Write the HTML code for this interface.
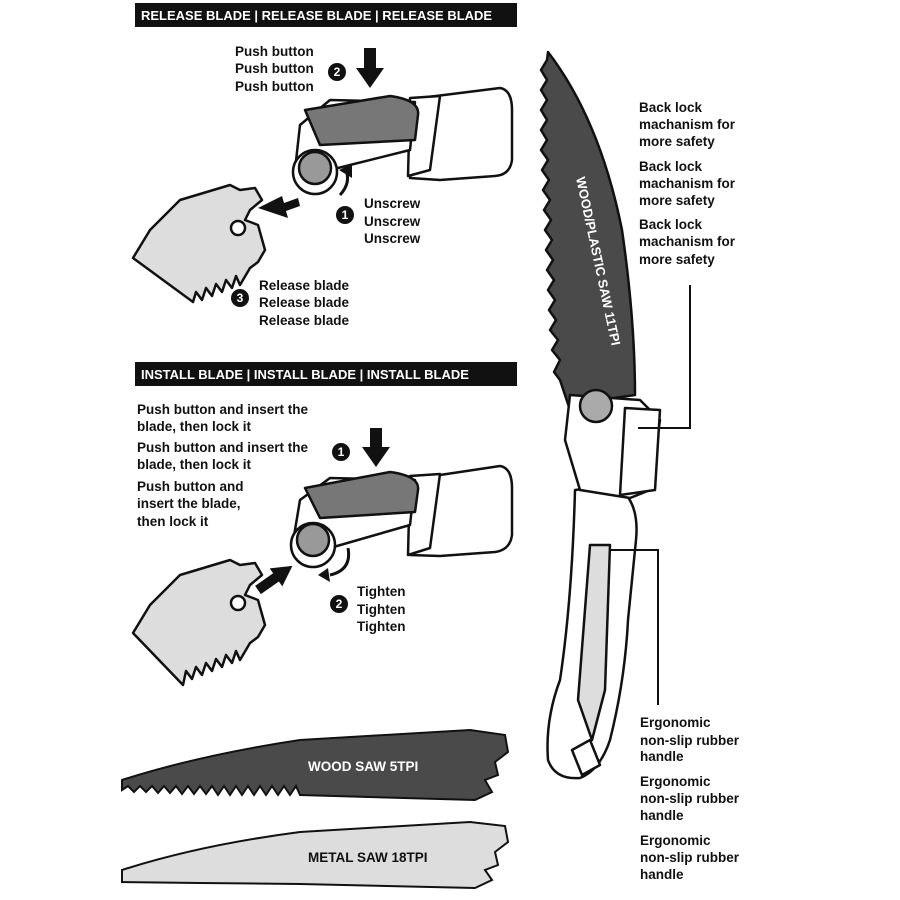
<!DOCTYPE html>
<html><head><meta charset="utf-8"><style>
html,body{margin:0;padding:0;background:#fff}
svg{display:block}
text{font-family:"Liberation Sans",Arial,sans-serif;font-weight:bold;font-size:13.5px;fill:#111}
.b{fill:#fff;font-size:13px}
.n{fill:#fff;font-size:12px;text-anchor:middle}
</style></head><body>
<svg width="900" height="900" viewBox="0 0 900 900">
<rect x="135" y="3" width="382" height="24" fill="#111"/>
<text class="b" x="141" y="20">RELEASE BLADE | RELEASE BLADE | RELEASE BLADE</text>
<rect x="135" y="362" width="382" height="24" fill="#111"/>
<text class="b" x="141" y="379">INSTALL BLADE | INSTALL BLADE | INSTALL BLADE</text>

<text x="235" y="56">Push button</text><text x="235" y="73">Push button</text><text x="235" y="91">Push button</text>
<circle cx="337" cy="72" r="9" fill="#111"/><text class="n" x="337" y="76">2</text>
<polygon points="364,48 376,48 376,68 384,68 370,88 356,68 364,68" fill="#111"/>
<text x="364" y="208">Unscrew</text><text x="364" y="226">Unscrew</text><text x="364" y="243">Unscrew</text>
<circle cx="345" cy="215" r="9" fill="#111"/><text class="n" x="345" y="219">1</text>
<text x="259" y="290">Release blade</text><text x="259" y="307">Release blade</text><text x="259" y="325">Release blade</text>
<circle cx="240" cy="298" r="9" fill="#111"/><text class="n" x="240" y="302">3</text>

<g stroke="#111" stroke-width="2.5" stroke-linejoin="round">
<path d="M420,98 L500,88 Q512,90 512,110 L512,160 Q510,175 495,176 L440,180 L410,178 Z" fill="#fff"/>
<path d="M410,98 L440,96 L430,170 L408,176 Z" fill="#fff"/>
<path d="M300,125 L330,100 L415,102 L410,150 L330,170 L295,170 Z" fill="#fff"/>
<path d="M305,110 L390,96 Q420,100 418,115 L415,140 L320,145 Z" fill="#777"/>
<circle cx="315" cy="172" r="22" fill="#fff"/>
<circle cx="315" cy="168" r="16" fill="#999"/>
<path d="M133,258 L150,230 L180,200 L230,185 L240,190 L255,188 L262,200 L250,210 L245,220 L258,225 L265,250 L258,262 L250,268 L240,285 L236,276 L232,288 L226,280 L222,292 L216,284 L212,296 L206,288 L202,300 L196,292 L193,302 Z" fill="#ddd"/>
<circle cx="238" cy="228" r="7" fill="#fff"/>
</g>
<polygon points="258,208 282,196 284,203 298,198 300,206 286,211 288,218" fill="#111"/>
<path d="M340,195 Q352,182 345,168" stroke="#111" stroke-width="3" fill="none"/>
<polygon points="339,170 352,164 352,178" fill="#111"/>

<text x="137" y="414">Push button and insert the</text><text x="137" y="431">blade, then lock it</text>
<text x="137" y="452">Push button and insert the</text><text x="137" y="469">blade, then lock it</text>
<text x="137" y="491">Push button and</text><text x="137" y="508">insert the blade,</text><text x="137" y="526">then lock it</text>
<circle cx="341" cy="452" r="9" fill="#111"/><text class="n" x="341" y="456">1</text>
<polygon points="370,428 382,428 382,447 390,447 376,467 362,447 370,447" fill="#111"/>
<text x="357" y="596">Tighten</text><text x="357" y="614">Tighten</text><text x="357" y="631">Tighten</text>
<circle cx="339" cy="604" r="9" fill="#111"/><text class="n" x="339" y="608">2</text>

<g stroke="#111" stroke-width="2.5" stroke-linejoin="round">
<path d="M420,478 L500,466 Q512,468 512,488 L512,535 Q510,550 495,552 L440,556 L410,555 Z" fill="#fff"/>
<path d="M410,476 L440,474 L430,548 L408,555 Z" fill="#fff"/>
<path d="M300,500 L330,478 L415,480 L410,525 L330,548 L292,548 Z" fill="#fff"/>
<path d="M305,488 L390,472 Q420,476 418,490 L415,512 L320,518 Z" fill="#777"/>
<circle cx="313" cy="545" r="22" fill="#fff"/>
<circle cx="313" cy="540" r="16" fill="#999"/>
<path d="M133,633 L150,605 L180,575 L230,560 L240,565 L255,563 L262,575 L250,585 L245,595 L258,600 L265,625 L258,637 L250,643 L240,660 L236,651 L232,663 L226,655 L222,667 L216,659 L212,671 L206,663 L202,675 L196,667 L192,679 L186,671 L183,685 Z" fill="#ddd"/>
<circle cx="238" cy="603" r="7" fill="#fff"/>
</g>
<g transform="translate(258,590) rotate(-35)">
<polygon points="42,0 22,-11 22,-5 0,-5 0,5 22,5 22,11" fill="#111"/>
</g>
<path d="M330,575 Q352,570 348,548" stroke="#111" stroke-width="3" fill="none"/>
<polygon points="328,568 330,582 318,575" fill="#111"/>

<path d="M122,780 Q200,755 300,740 L470,730 L505,735 L508,752 L495,762 L498,775 L485,780 L492,792 L475,800 L300,795 L296,786 L290,795 L284,786 L278,795 L272,786 L266,795 L260,786 L254,795 L248,786 L242,795 L236,786 L230,795 L224,786 L218,795 L212,786 L206,794 L200,786 L194,794 L188,786 L182,794 L176,786 L170,793 L164,786 L158,793 L152,786 L146,792 L140,786 L134,792 L128,786 L122,790 Z" fill="#4a4a4a" stroke="#111" stroke-width="2"/>
<text x="308" y="771" style="fill:#fff">WOOD SAW 5TPI</text>
<path d="M122,870 Q200,845 300,832 L470,822 L505,826 L508,842 L495,852 L498,865 L485,870 L492,880 L475,888 L300,884 L200,883 L122,882 Z" fill="#ddd" stroke="#111" stroke-width="2"/>
<text x="308" y="862">METAL SAW 18TPI</text>

<g stroke="#111" stroke-width="2.5" stroke-linejoin="round">
<path d="M548,52 Q600,120 622,230 Q635,320 635,395 L600,400 L570,410 L560,380 L554,372 L560,360 L552,350 L558,340 L550,330 L556,320 L549,310 L555,300 L548,290 L554,280 L547,270 L553,260 L546,250 L552,240 L545,230 L551,220 L544,210 L550,200 L543,190 L549,180 L542,170 L548,160 L541,150 L547,140 L541,130 L547,120 L541,110 L547,100 L541,90 L547,80 L541,70 L547,60 Z" fill="#4a4a4a"/>
<path d="M575,490 L615,485 Q640,500 636,540 L628,620 Q625,680 610,740 Q600,770 580,778 Q555,780 548,760 Q545,720 560,680 Q572,600 575,490 Z" fill="#fff"/>
<path d="M590,545 L610,545 L605,690 L592,740 L578,700 Z" fill="#ddd"/>
<path d="M570,395 L640,400 L660,420 L650,490 L630,498 L580,490 L565,440 Z" fill="#fff"/>
<path d="M625,408 L660,410 L655,490 L620,495 Z" fill="#fff"/>
<circle cx="596" cy="406" r="16" fill="#aaa"/>
<path d="M572,750 L590,740 L600,765 L582,775 Z" fill="#fff"/>
</g>
<text transform="translate(576,178) rotate(78)" style="fill:#fff;font-size:13px">WOOD/PLASTIC SAW 11TPI</text>

<text x="639" y="112">Back lock</text><text x="639" y="129">machanism for</text><text x="639" y="146">more safety</text>
<text x="639" y="171">Back lock</text><text x="639" y="188">machanism for</text><text x="639" y="205">more safety</text>
<text x="639" y="229">Back lock</text><text x="639" y="246">machanism for</text><text x="639" y="264">more safety</text>
<path d="M690,285 L690,428 L638,428" stroke="#111" stroke-width="2" fill="none"/>
<text x="640" y="727">Ergonomic</text><text x="640" y="745">non-slip rubber</text><text x="640" y="761">handle</text>
<text x="640" y="786">Ergonomic</text><text x="640" y="803">non-slip rubber</text><text x="640" y="820">handle</text>
<text x="640" y="845">Ergonomic</text><text x="640" y="862">non-slip rubber</text><text x="640" y="879">handle</text>
<path d="M658,705 L658,550 L610,550" stroke="#111" stroke-width="2" fill="none"/>
</svg>
</body></html>
